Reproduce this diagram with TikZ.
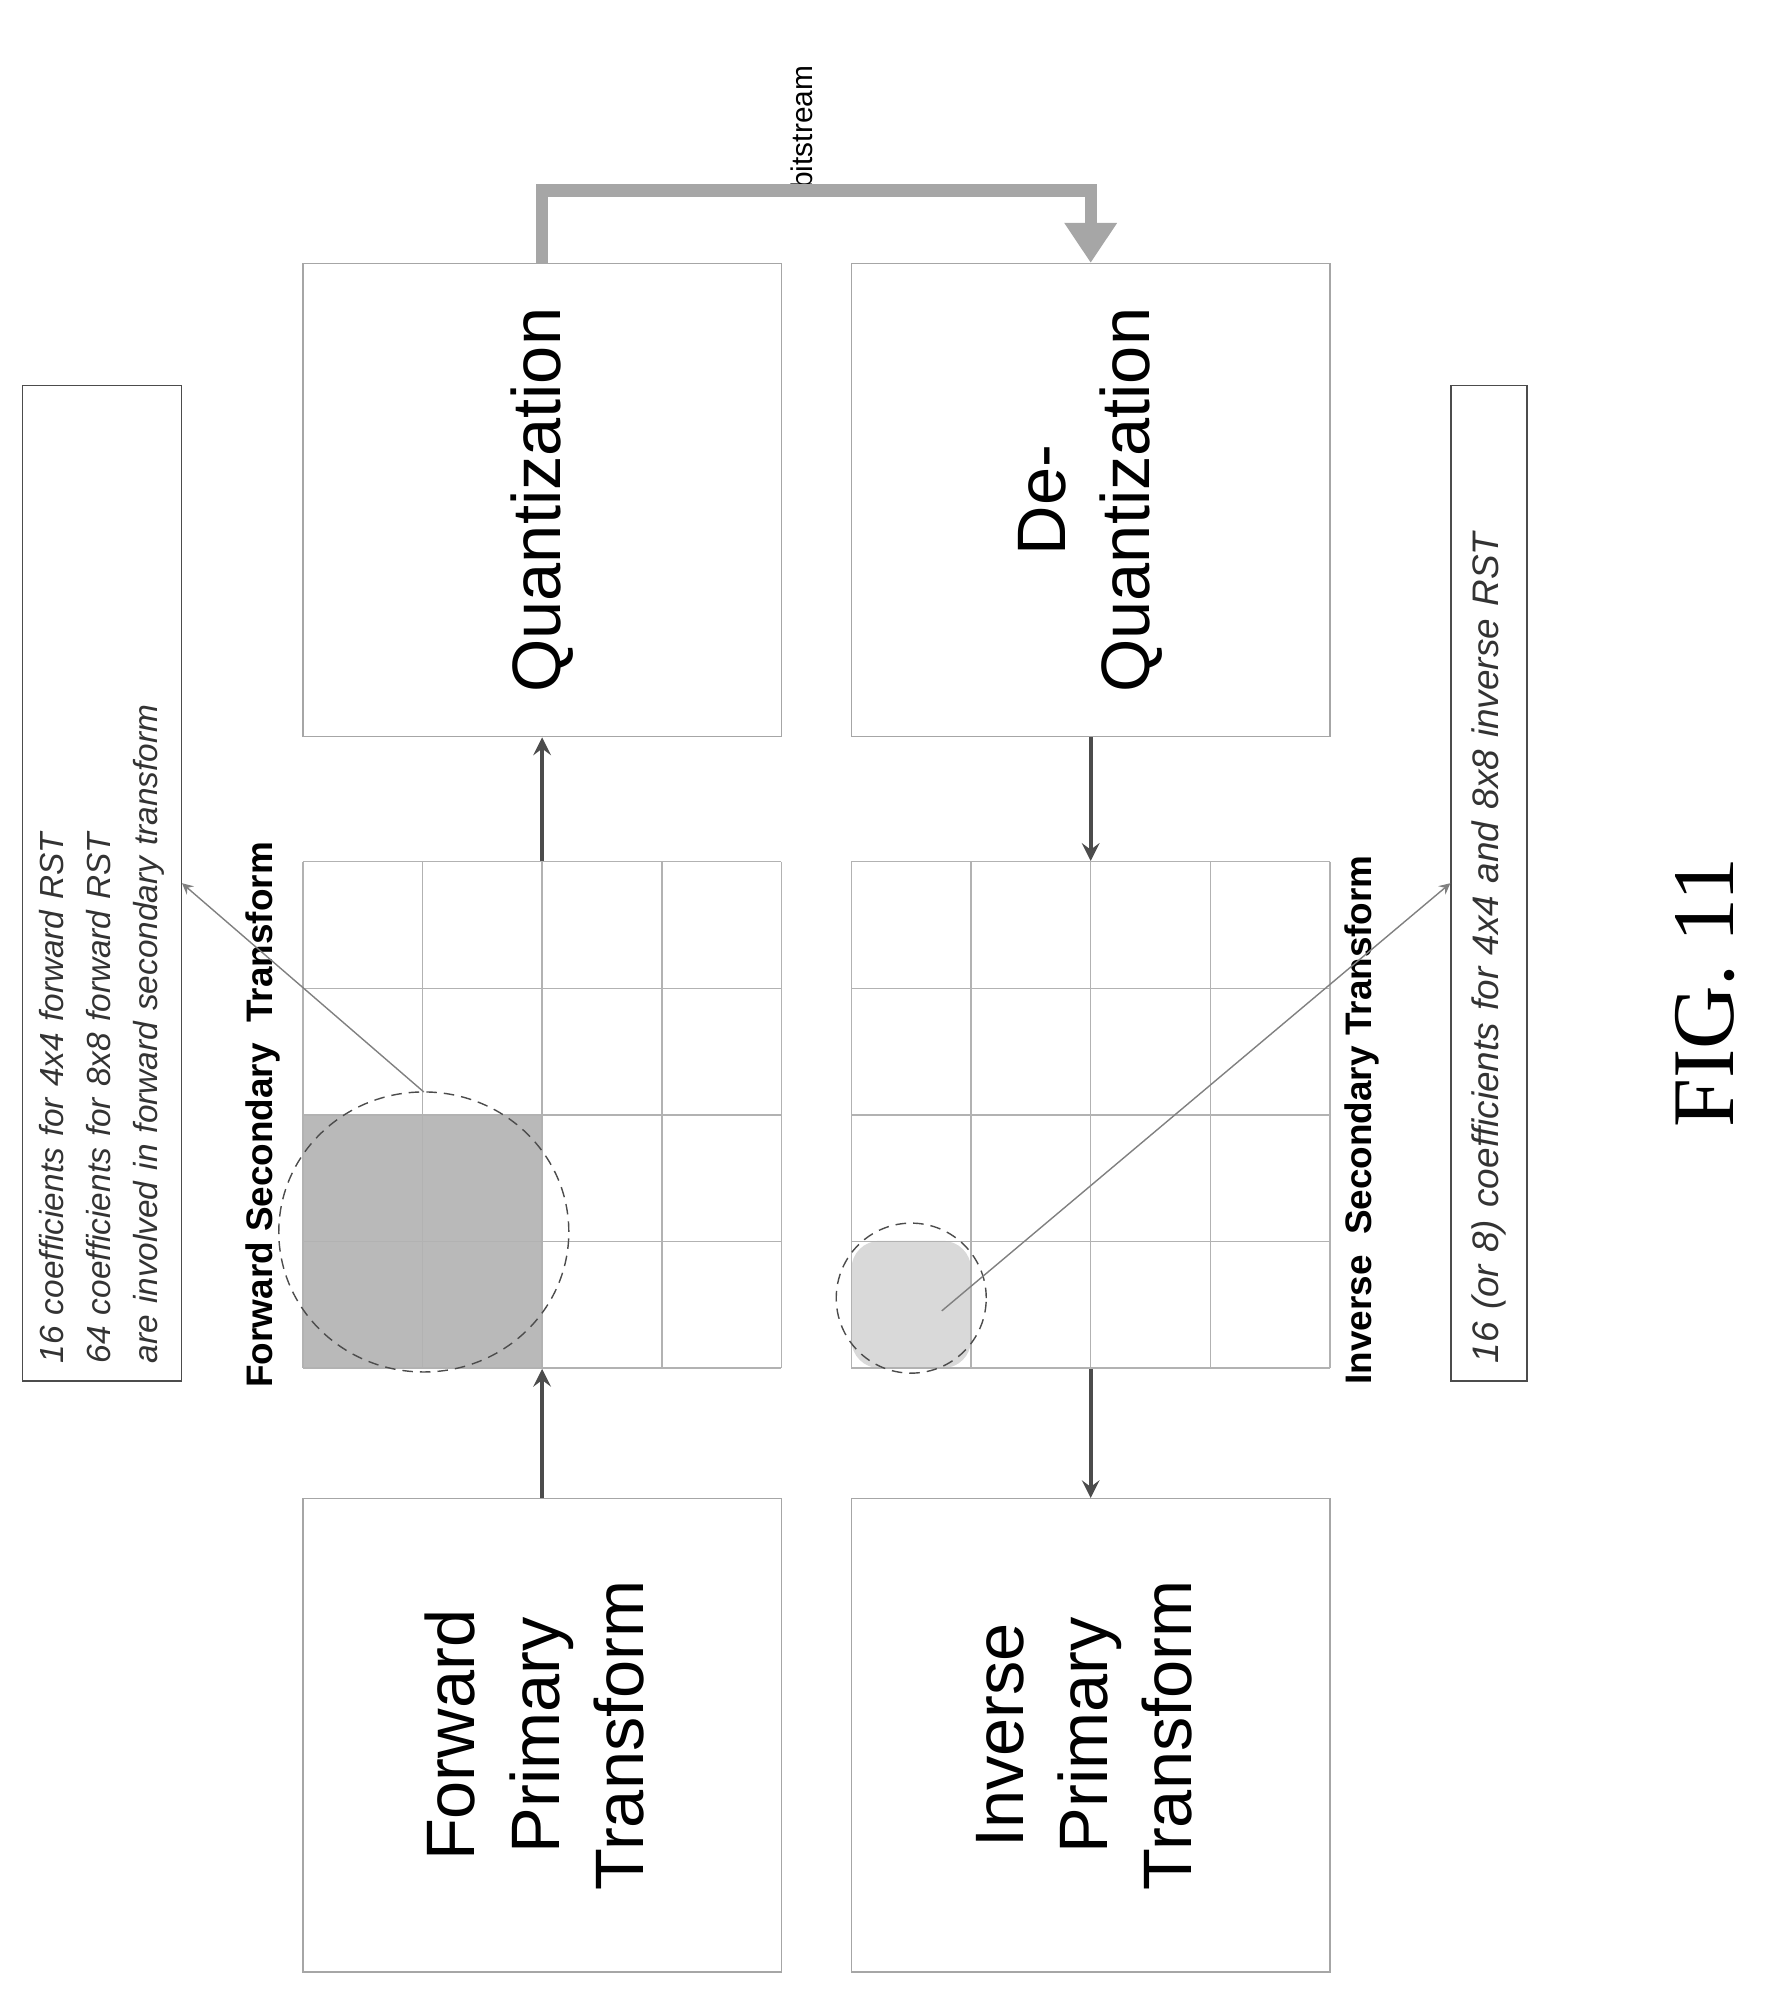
\documentclass[tikz,border=0pt]{standalone}
\usepackage{fontspec}
\setmainfont{Liberation Sans}
\newfontfamily\figfont{Liberation Serif}
\usetikzlibrary{arrows,arrows.meta,positioning,calc}
\tikzset{
	>=stealth, % arrow heads
	blk/.style={draw=gray!70, thin, minimum width=4.785cm, minimum height=4.73cm, inner sep=0pt, font=\fontsize{19.5}{24}\selectfont},
	gridbox/.style={minimum width=4.785cm, minimum height=5.065cm, inner sep=0pt},
	flow/.style={->, draw=gray!60!black, line width=1.2pt},
	bit/.style={->, draw=gray!70, line width=3.5pt, >={Triangle[length=4mm,width=5mm]}},
	note/.style={draw=gray!60!black, rotate=90, minimum width=9.95cm, text width=9.6cm, align=left, text=gray!40!black},
	pointer/.style={->, draw=gray, thin},
}
\begin{document}
\begin{tikzpicture}[x=0.012727cm, y=-0.012727cm]
	\useasboundingbox (0,0) rectangle (1390,1577);
	% processing boxes
	\node[blk] (fpt) at (426,1363.5) {\rotatebox{90}{\begin{tabular}{c}Forward\\Primary\\Transform\end{tabular}}};
	\node[blk] (quant) at (426,393) {\rotatebox{90}{Quantization}};
	\node[blk] (dquant) at (857,393) {\rotatebox{90}{\begin{tabular}{c}De-\\Quantization\end{tabular}}};
	\node[blk] (ipt) at (857,1363.5) {\rotatebox{90}{\begin{tabular}{c}Inverse\\Primary\\Transform\end{tabular}}};
	% coefficient grids
	\fill[gray!55] (238,875) rectangle (426,1075);
	\fill[gray!30, rounded corners=8pt] (669,975) rectangle (763,1075);
	\foreach \gx in {238,669} {
		\foreach \i in {0,...,4} {
			\draw[gray!60] ({\gx+94*\i},677) -- ({\gx+94*\i},1075);
			\draw[gray!60] (\gx,{677+99.5*\i}) -- ({\gx+376},{677+99.5*\i});
		}
	}
	\node[gridbox] (fgrid) at (426,876) {};
	\node[gridbox] (igrid) at (857,876) {};
	\draw[gray!60!black, densely dashed] (333,968) circle[x radius=1.45cm, y radius=1.4cm];
	\draw[gray!60!black, densely dashed] (716,1020) circle[radius=0.75cm];
	\coordinate (fsel) at (333,858);
	\coordinate (isel) at (740,1030);
	% labels
	\node[rotate=90, font=\bfseries\fontsize{10.5}{12}\selectfont] (fst) at (207,876) {Forward Secondary\ \ Transform};
	\node[rotate=90, font=\bfseries\fontsize{10.5}{12}\selectfont] (ist) at (1070,880) {Inverse\ \ Secondary Transform};
	\node[note, minimum height=1.59cm, font=\fontsize{9.5}{13.4}\selectfont\itshape] (fnote) at (80,694) {16 coefficients for 4x4 forward RST\\64 coefficients for 8x8 forward RST\\are involved in forward secondary transform};
	\node[note, minimum height=0.76cm, font=\fontsize{10.5}{13}\selectfont\itshape] (inote) at (1170,694) {16 (or 8) coefficients for 4x4 and 8x8 inverse RST};
	\node[rotate=90, font=\fontsize{8.5}{10}\selectfont] (bslabel) at (630,100) {bitstream};
	\node[rotate=90, font=\figfont\fontsize{25}{30}\selectfont] (fig) at (1340,780) {FIG. 11};
	% connectors
	\draw[flow] (fpt.north) -- (fgrid.south);
	\draw[flow] (fgrid.north) -- (quant.south);
	\draw[flow] (dquant.south) -- (igrid.north);
	\draw[flow] (igrid.south) -- (ipt.north);
	\draw[bit] (quant.north) -- ++(0,-57) -| (dquant.north);
	\draw[pointer] (fsel) -- (fnote.south);
	\draw[pointer] (isel) -- (inote.north);
\end{tikzpicture}
\end{document}
